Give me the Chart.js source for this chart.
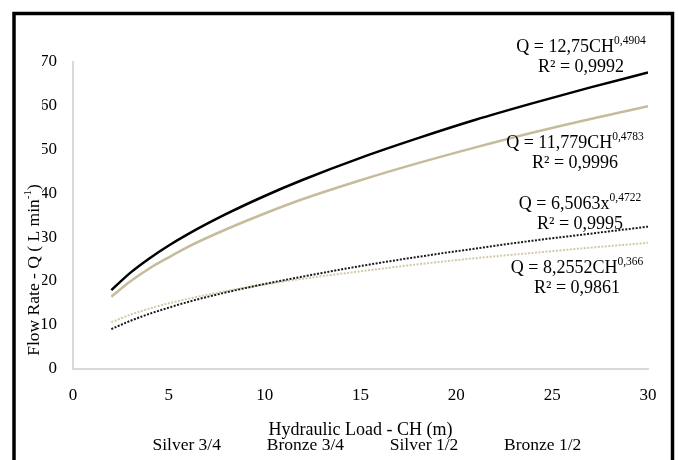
<!DOCTYPE html>
<html>
<head>
<meta charset="utf-8">
<script src="https://cdn.jsdelivr.net/npm/chart.js@4/dist/chart.umd.min.js"></script>
<style>
  html, body { margin: 0; padding: 0; background: #fff; overflow: hidden; }
  #wrap { width: 678px; height: 464px; position: relative; }
</style>
</head>
<body>
<div id="wrap"><canvas id="grafico"></canvas></div>
<script>
// valores (carga hidráulica em m, vazão em L/min)
const cargas = [2, 3, 4, 5, 6, 8, 10, 12, 15, 18, 21, 24, 27, 30];
const prata34 = [17.9, 21.9, 25.2, 28.1, 30.7, 35.3, 39.4, 43.1, 48.1, 52.6, 56.8, 60.6, 64.2, 67.6];
const bronze34 = [16.4, 19.9, 22.9, 25.4, 27.8, 31.8, 35.4, 38.7, 43.0, 46.9, 50.5, 53.9, 57.0, 59.9];
const prata12 = [9.0, 10.9, 12.5, 13.9, 15.2, 17.4, 19.3, 21.0, 23.4, 25.5, 27.4, 29.2, 30.8, 32.4];
const bronze12 = [10.6, 12.3, 13.7, 14.9, 15.9, 17.7, 19.2, 20.5, 22.2, 23.8, 25.2, 26.4, 27.6, 28.7];
const nomes = ["Silver 3/4", "Bronze 3/4", "Silver 1/2", "Bronze 1/2"];
const ticksX = [0, 5, 10, 15, 20, 25, 30];
const ticksY = [0, 10, 20, 30, 40, 50, 60, 70];

const equacoes = [
    { eq: "Q = 12,75CH", exp: "0,4904", r2: "R\u00b2 = 0,9992", x: 581, y: 52 },
    { eq: "Q = 11,779CH", exp: "0,4783", r2: "R\u00b2 = 0,9996", x: 575, y: 148 },
    { eq: "Q = 6,5063x", exp: "0,4722", r2: "R\u00b2 = 0,9995", x: 580, y: 209 },
    { eq: "Q = 8,2552CH", exp: "0,366", r2: "R\u00b2 = 0,9861", x: 577, y: 273 }
];

const FONTE = "'Liberation Serif', 'Times New Roman', serif";

function pontos(ys) {
    return cargas.map((c, i) => ({ x: c, y: ys[i] }));
}

const moldura = {
    id: "moldura",
    beforeDraw(chart) {
        const ctx = chart.ctx;
        ctx.save();
        ctx.fillStyle = "#fff";
        ctx.fillRect(0, 0, chart.width, chart.height);
        ctx.restore();
    },
    afterDraw(chart) {
        const ctx = chart.ctx;
        ctx.save();
        ctx.strokeStyle = "#000";
        ctx.lineWidth = 3.5;
        ctx.strokeRect(14, 13.5, 658.5, 520);

        // título do eixo y (com expoente)
        ctx.translate(34, 270);
        ctx.rotate(-Math.PI / 2);
        ctx.fillStyle = "#000";
        ctx.textBaseline = "middle";
        const f1 = "17.5px " + FONTE, f2 = "11px " + FONTE;
        ctx.font = f1;
        const a = "Flow Rate - Q ( L min", c = ")";
        const wa = ctx.measureText(a).width, wc = ctx.measureText(c).width;
        ctx.font = f2;
        const wb = ctx.measureText("-1").width;
        let x0 = -(wa + wb + wc) / 2;
        ctx.font = f1;
        ctx.fillText(a, x0, 0);
        ctx.font = f2;
        ctx.fillText("-1", x0 + wa, -6);
        ctx.font = f1;
        ctx.fillText(c, x0 + wa + wb, 0);
        ctx.restore();

        // equações das curvas
        ctx.save();
        ctx.fillStyle = "#000";
        ctx.textBaseline = "alphabetic";
        equacoes.forEach(e => {
            ctx.font = "18px " + FONTE;
            const w1 = ctx.measureText(e.eq).width;
            ctx.font = "11.5px " + FONTE;
            const w2 = ctx.measureText(e.exp).width;
            const xi = e.x - (w1 + w2) / 2;
            ctx.font = "18px " + FONTE;
            ctx.fillText(e.eq, xi, e.y);
            ctx.font = "11.5px " + FONTE;
            ctx.fillText(e.exp, xi + w1, e.y - 8);
            ctx.font = "18px " + FONTE;
            ctx.textAlign = "center";
            ctx.fillText(e.r2, e.x, e.y + 20);
            ctx.textAlign = "left";
        });
        ctx.restore();
    }
};

new Chart(document.getElementById("grafico"), {
    type: "line",
    data: {
        datasets: [
            { label: nomes[0], data: pontos(prata34), borderColor: "#000000", borderWidth: 2.5 },
            { label: nomes[1], data: pontos(bronze34), borderColor: "#c6bb9b", borderWidth: 2.5 },
            { label: nomes[2], data: pontos(prata12), borderColor: "#1a1a1a", borderWidth: 2, borderDash: [2, 1.5] },
            { label: nomes[3], data: pontos(bronze12), borderColor: "#d3c9a8", borderWidth: 2, borderDash: [2, 1.5] }
        ]
    },
    options: {
        responsive: true,
        maintainAspectRatio: false,
        animation: false,
        elements: {
            point: { radius: 0 },
            line: { tension: 0.4, cubicInterpolationMode: "monotone", fill: false }
        },
        layout: { padding: { left: 42, right: 30, top: 62, bottom: 0 } },
        plugins: {
            tooltip: { enabled: false },
            legend: {
                position: "bottom",
                labels: {
                    font: { family: FONTE, size: 17.5 },
                    color: "#000",
                    padding: 2,
                    boxWidth: 35,
                    generateLabels: chart => chart.data.datasets.map((d, i) => ({
                        text: d.label,
                        fillStyle: "rgba(0,0,0,0)",
                        strokeStyle: "rgba(0,0,0,0)",
                        lineWidth: 0,
                        fontColor: "#000",
                        datasetIndex: i
                    }))
                }
            }
        },
        scales: {
            x: {
                type: "linear",
                min: 0,
                max: 30,
                afterBuildTicks: s => { s.ticks = ticksX.map(v => ({ value: v })); },
                afterFit: s => { s.height = 66; },
                grid: { display: false, drawTicks: false },
                border: { display: true, color: "#d9d9d9", width: 2 },
                ticks: { font: { family: FONTE, size: 17 }, color: "#000", padding: 17, maxRotation: 0 },
                title: {
                    display: true,
                    text: "Hydraulic Load - CH (m)",
                    font: { family: FONTE, size: 18, lineHeight: 1 },
                    color: "#000",
                    padding: { top: 0, bottom: -5 }
                }
            },
            y: {
                min: 0,
                max: 70,
                afterBuildTicks: s => { s.ticks = ticksY.map(v => ({ value: v })); },
                afterFit: s => { s.width = 31; },
                grid: { display: false, drawTicks: false },
                border: { display: true, color: "#d9d9d9", width: 2 },
                ticks: { font: { family: FONTE, size: 17 }, color: "#000", padding: 16 }
            }
        }
    },
    plugins: [moldura]
});
</script>
</body>
</html>
